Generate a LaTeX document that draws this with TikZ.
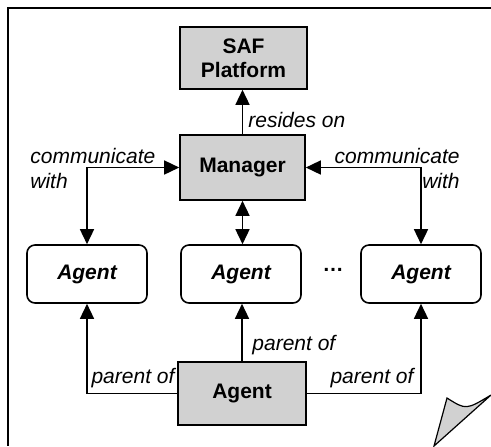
\documentclass[tikz,border=0pt]{standalone}
\usepackage{fontspec}
\setmainfont{Liberation Sans}
\usetikzlibrary{arrows.meta}
\tikzset{
  shaded/.style={draw, line width=0.8pt, fill=black!18, font=\fontsize{10.5}{12}\selectfont\bfseries, align=center},
  agentbox/.style={draw, line width=0.8pt, fill=white, rounded corners=4pt, minimum width=60pt, minimum height=29pt, font=\fontsize{10.5}{12}\selectfont\bfseries\itshape},
  lbl/.style={font=\fontsize{10.5}{12.5}\selectfont\itshape, inner sep=1pt},
  tip/.tip={Triangle[length=7.5pt,width=7pt]},
  conn/.style={line width=0.75pt, -tip},
  conn2/.style={line width=0.75pt, tip-tip},
}
\begin{document}
\begin{tikzpicture}[x=0.5pt, y=-0.5pt]
  \useasboundingbox (0,0) rectangle (491,446);
  % note frame with folded corner
  \draw[line width=1pt] (491,8) -- (8,8) -- (8,446);
  \draw[line width=0.6pt, fill=black!18] (447,398) .. controls (466,410) .. (491,395) -- (434,446) -- cycle;

  % nodes
  \node[shaded, minimum width=63.5pt, minimum height=31pt] (saf) at (243.5,58) {SAF\\Platform};
  \node[shaded, minimum width=62.5pt, minimum height=32.5pt] (mgr) at (242.5,167.5) {Manager};
  \node[agentbox] (a1) at (87,274) {Agent};
  \node[agentbox] (a2) at (241,274) {Agent};
  \node[agentbox] (a3) at (421,274) {Agent};
  \node[font=\fontsize{10.5}{12}\selectfont\bfseries] (dots) at (333,270) {\dots};
  \node[shaded, minimum width=64pt, minimum height=31.5pt] (root) at (242,393.5) {Agent};

  % connectors
  \draw[conn] (mgr.north) -- (mgr.north |- saf.south);
  \draw[conn2] (a1.north) |- (mgr.west);
  \draw[conn2] (a3.north) |- (mgr.east);
  \draw[conn2] (mgr.south) -- (mgr.south |- a2.north);
  \draw[conn] (root.west) -| (a1.south);
  \draw[conn] (root.north) -- (root.north |- a2.south);
  \draw[conn] (root.east) -| (a3.south);

  % labels
  \node[lbl, anchor=west] (lres) at (246,120) {resides on};
  \node[lbl, anchor=west, align=left] (lcl) at (28,168) {communicate\\with};
  \node[lbl, anchor=east, align=right] (lcr) at (462,168) {communicate\\with};
  \node[lbl, anchor=west] (lpm) at (250,345) {parent of};
  \node[lbl, anchor=south] (lpl) at (133,390) {parent of};
  \node[lbl, anchor=south] (lpr) at (372,390) {parent of};
\end{tikzpicture}
\end{document}
